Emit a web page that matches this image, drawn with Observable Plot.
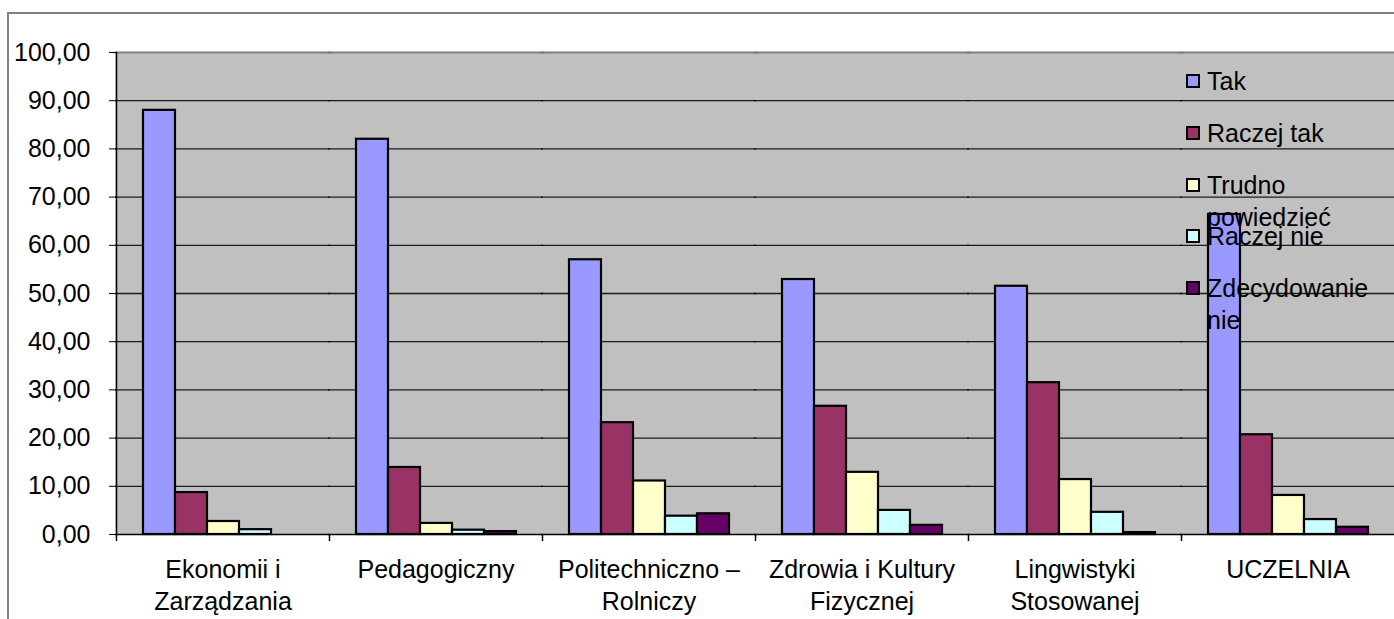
<!DOCTYPE html>
<html>
<head>
<meta charset="utf-8">
<script src="https://cdn.jsdelivr.net/npm/d3@7"></script>
<script src="https://cdn.jsdelivr.net/npm/@observablehq/plot@0.6"></script>
<style>
  body { margin: 0; background: #fff; font-family: "Liberation Sans", Arial, sans-serif; }
  #wrap { position: relative; width: 1394px; height: 619px; overflow: hidden; }
  #outer { position: absolute; left: 7px; top: 12px; width: 1500px; height: 700px; border: 2px solid #808080; }
  #chart { position: absolute; left: 0; top: 0; }
  #legend { position: absolute; left: 0; top: 0; width: 1394px; height: 619px; pointer-events: none; }
  .item { position: absolute; left: 1186px; width: 200px; font-size: 25px; line-height: 32px; color: #000; }
  .sw { position: absolute; left: 0; top: 9px; width: 14px; height: 14px; box-sizing: border-box; border: 2px solid #000; }
  .lab { position: absolute; left: 21px; top: 0; width: 180px; white-space: normal; }
</style>
</head>
<body>
<div id="wrap">
  <div id="outer"></div>
  <div id="chart"></div>
  <div id="legend"></div>
</div>
<script>
const categories = ["Ekonomii i\nZarządzania", "Pedagogiczny", "Politechniczno –\nRolniczy", "Zdrowia i Kultury\nFizycznej", "Lingwistyki\nStosowanej", "UCZELNIA"];
const seriesNames = ["Tak", "Raczej tak", "Trudno powiedzieć", "Raczej nie", "Zdecydowanie nie"];
const tak             = [88.0, 82.0, 57.0, 52.9, 51.5, 66.4];
const raczejTak       = [8.7, 13.9, 23.2, 26.6, 31.5, 20.7];
const trudno          = [2.7, 2.3, 11.1, 12.9, 11.4, 8.1];
const raczejNie       = [1.0, 0.9, 3.8, 5.0, 4.6, 3.1];
const zdecydowanieNie = [0.0, 0.6, 4.3, 1.9, 0.4, 1.5];
const yTicks = [0, 10, 20, 30, 40, 50, 60, 70, 80, 90, 100];
const colors = ["#9999FF", "#993366", "#FFFFCC", "#CCFFFF", "#660066"];

const seriesValues = [tak, raczejTak, trudno, raczejNie, zdecydowanieNie];
const data = [];
categories.forEach((c, i) => {
  seriesNames.forEach((s, j) => data.push({category: c, series: s, value: seriesValues[j][i]}));
});

const W = 1394, H = 619, mT = 52, mB = 85, mL = 116, mR = 0;
const halfBand = (W - mL - mR) / categories.length / 2;
const fmt = d => d.toFixed(2).replace(".", ",");

const chart = Plot.plot({
  width: W, height: H,
  marginLeft: mL, marginRight: mR, marginTop: mT, marginBottom: mB,
  style: {fontFamily: "'Liberation Sans', Arial, sans-serif", background: "transparent", color: "#000"},
  fx: {domain: categories, paddingInner: 0, paddingOuter: 0},
  x: {domain: seriesNames, paddingInner: 0, paddingOuter: 0.75, axis: null},
  y: {domain: [0, 100]},
  color: {domain: seriesNames, range: colors},
  marks: [
    Plot.frame({fill: "#c0c0c0", stroke: "none", insetLeft: -1, insetRight: -1}),
    Plot.gridY(yTicks.filter(d => d > 0 && d < 100), {stroke: "#000", strokeOpacity: 0.85, strokeWidth: 1.3, insetLeft: -1, insetRight: -1}),
    Plot.frame({anchor: "top", stroke: "#808080", strokeWidth: 2, insetLeft: -1, insetRight: -1}),
    Plot.barY(data, {fx: "category", x: "series", y: "value", fill: "series", stroke: "#000", strokeWidth: 2.2}),
    Plot.ruleY([0], {stroke: "#000", strokeWidth: 1.5, insetLeft: -1, insetRight: -1}),
    Plot.frame({anchor: "left", stroke: "#000", strokeWidth: 1.5, facetAnchor: "left"}),
    Plot.axisY({ticks: yTicks, tickFormat: fmt, tickSize: 7, tickPadding: 19, fontSize: 25, label: null, stroke: "#000", strokeOpacity: 1}),
    Plot.axisFx({anchor: "bottom", tickSize: 7, text: null, label: null, dx: -halfBand, stroke: "#000", strokeWidth: 1.5, strokeOpacity: 1}),
    Plot.axisFx({anchor: "bottom", tickSize: 0, tickPadding: 21, fontSize: 25, lineHeight: 1.28, label: null})
  ]
});
document.getElementById("chart").appendChild(chart);

const legend = document.getElementById("legend");
seriesNames.forEach((s, i) => {
  const item = document.createElement("div");
  item.className = "item";
  item.style.top = (65 + i * 51.8) + "px";
  const sw = document.createElement("div");
  sw.className = "sw";
  sw.style.background = colors[i];
  const lab = document.createElement("div");
  lab.className = "lab";
  lab.textContent = s;
  item.appendChild(sw);
  item.appendChild(lab);
  legend.appendChild(item);
});
</script>
</body>
</html>
